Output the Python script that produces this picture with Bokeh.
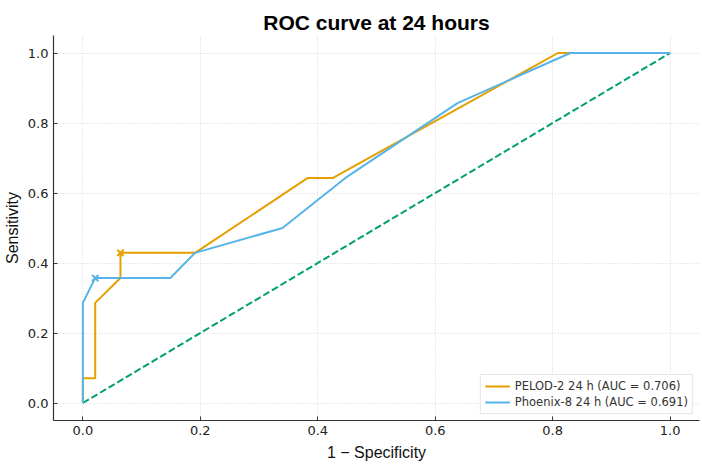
from bokeh.plotting import figure
from bokeh.models import Range1d, FixedTicker, Legend, LegendItem, NumeralTickFormatter
from bokeh.embed import file_html
from bokeh.resources import INLINE

# ROC points (false positive rate, true positive rate)
pelod_fpr = [0.0, 0.0, 0.021, 0.021, 0.064, 0.064, 0.191, 0.383, 0.426, 0.809, 1.0]
pelod_tpr = [0.0, 0.071, 0.071, 0.286, 0.357, 0.429, 0.429, 0.643, 0.643, 1.0, 1.0]
phoenix_fpr = [0.0, 0.0, 0.021, 0.149, 0.191, 0.340, 0.447, 0.638, 0.830, 1.0]
phoenix_tpr = [0.0, 0.286, 0.357, 0.357, 0.429, 0.500, 0.643, 0.857, 1.0, 1.0]

# Youden-optimal cut-off points
pelod_best = (0.064, 0.429)
phoenix_best = (0.021, 0.357)

labels = ["PELOD-2 24 h (AUC = 0.706)", "Phoenix-8 24 h (AUC = 0.691)"]
ticks = [0.0, 0.2, 0.4, 0.6, 0.8, 1.0]
chance = [0.0, 1.0]

ORANGE = "#E69F00"
BLUE = "#56B4E9"
GREEN = "#009E73"

p = figure(width=702, height=465, output_backend="svg", toolbar_location=None,
           x_range=Range1d(-0.05, 1.05), y_range=Range1d(-0.05, 1.05),
           min_border_left=53, min_border_right=3, min_border_top=35, min_border_bottom=45)

p.title.text = "ROC curve at 24 hours"
p.title.align = "center"
p.title.vertical_align = "top"
p.title.text_font = "Liberation Sans"
p.title.text_font_size = "21px"
p.title.text_font_style = "bold"
p.title.text_color = "#000000"
p.title.standoff = 0

p.outline_line_color = None
p.background_fill_color = "white"
p.border_fill_color = "white"

for ax in (p.xaxis[0], p.yaxis[0]):
    ax.ticker = FixedTicker(ticks=ticks)
    ax.formatter = NumeralTickFormatter(format="0.0")
    ax.major_label_text_font = "DejaVu Sans"
    ax.major_label_text_font_size = "13px"
    ax.major_label_text_color = "#222222"
    ax.axis_label_text_font = "Liberation Sans"
    ax.axis_label_text_font_size = "16px"
    ax.axis_label_text_font_style = "normal"
    ax.axis_label_text_color = "#111111"
    ax.axis_line_color = "#333333"
    ax.axis_line_width = 1.2
    ax.major_tick_line_color = "#333333"
    ax.major_tick_out = 0
    ax.major_tick_in = 4
    ax.minor_tick_line_color = None

p.xaxis.axis_label = "1 − Specificity"
p.yaxis.axis_label = "Sensitivity"
p.xaxis.major_label_standoff = 5
p.yaxis.major_label_standoff = 5
p.xaxis.axis_label_standoff = 6
p.yaxis.axis_label_standoff = 4

for g in (p.xgrid[0], p.ygrid[0]):
    g.grid_line_color = "#d4d4d4"
    g.grid_line_dash = "1 2"
    g.grid_line_width = 1

p.line(chance, chance, line_color=GREEN, line_width=2, line_dash="7 3")
r1 = p.line(pelod_fpr, pelod_tpr, line_color=ORANGE, line_width=2)
r2 = p.line(phoenix_fpr, phoenix_tpr, line_color=BLUE, line_width=2)
p.scatter([pelod_best[0]], [pelod_best[1]], marker="x", size=9, line_color=ORANGE, line_width=2)
p.scatter([phoenix_best[0]], [phoenix_best[1]], marker="x", size=9, line_color=BLUE, line_width=2)

legend = Legend(items=[LegendItem(label=labels[0], renderers=[r1]),
                       LegendItem(label=labels[1], renderers=[r2])],
                location="bottom_right")
legend.label_text_font = "DejaVu Sans"
legend.label_text_font_size = "11.5px"
legend.label_text_color = "#333333"
legend.glyph_width = 25
legend.glyph_height = 12
legend.label_height = 12
legend.spacing = 2
legend.padding = 4
legend.margin = 6
legend.border_line_color = "#cccccc"
legend.border_line_width = 1
legend.background_fill_alpha = 0.85
p.add_layout(legend)

open("out.html", "w").write(file_html(p, INLINE))
